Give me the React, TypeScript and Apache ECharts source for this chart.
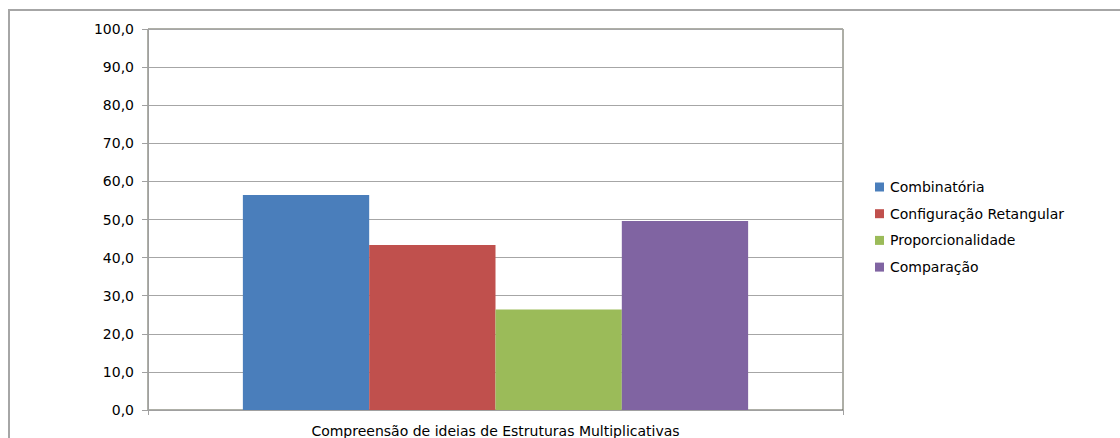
import React, { useEffect, useRef } from "react";
import * as echarts from "echarts";

const categories = ["Compreensão de ideias de Estruturas Multiplicativas"];
const seriesNames = ["Combinatória", "Configuração Retangular", "Proporcionalidade", "Comparação"];
const seriesValues = [56.4, 43.3, 26.4, 49.6];
const seriesColors = ["#4A7EBB", "#C0504D", "#9BBB59", "#8064A2"];
const yMin = 0;
const yMax = 100;
const yInterval = 10;

export default function App() {
  const ref = useRef<HTMLDivElement>(null);
  useEffect(() => {
    if (!ref.current) return;
    document.documentElement.style.overflow = "hidden";
    document.body.style.overflow = "hidden";
    document.body.style.margin = "0";
    const chart = echarts.init(ref.current, undefined, { renderer: "svg" });
    const font = "DejaVu Sans";
    chart.setOption({
      animation: false,
      backgroundColor: "#ffffff",
      grid: {
        left: 138,
        top: 18,
        right: 277,
        bottom: 23,
        show: true,
        borderColor: "#5c5f4e",
        borderWidth: 1,
        containLabel: false,
      },
      legend: {
        orient: "vertical",
        left: 860,
        top: 164,
        icon: "rect",
        itemWidth: 9,
        itemHeight: 9,
        itemGap: 12.7,
        textStyle: { fontFamily: font, fontSize: 14, color: "#000000", padding: [0, 0, 0, 1] },
        data: seriesNames,
      },
      xAxis: {
        type: "category",
        data: categories,
        axisLine: { show: true, lineStyle: { color: "#a0a0a0", width: 1 } },
        axisTick: { show: true, alignWithLabel: false, length: 5, lineStyle: { color: "#a0a0a0" } },
        axisLabel: { fontFamily: font, fontSize: 14, color: "#000000", margin: 14 },
        splitLine: { show: false },
      },
      yAxis: {
        type: "value",
        min: yMin,
        max: yMax,
        interval: yInterval,
        axisLine: { show: true, lineStyle: { color: "#a0a0a0", width: 1 } },
        axisTick: { show: true, length: 6, lineStyle: { color: "#a0a0a0" } },
        axisLabel: {
          fontFamily: font,
          fontSize: 14,
          color: "#000000",
          margin: 14,
          formatter: (v: number) => v.toFixed(1).replace(".", ","),
        },
        splitLine: { show: true, lineStyle: { color: "#a6a6a6", width: 1 } },
      },
      series: seriesNames.map((name, i) => ({
        name,
        type: "bar",
        data: [seriesValues[i]],
        itemStyle: { color: seriesColors[i] },
        barGap: "0%",
        barCategoryGap: "27.3%",
      })),
    });
    return () => chart.dispose();
  }, []);
  return (
    <div
      style={{
        marginLeft: 8,
        marginTop: 9,
        width: 1110,
        height: 427,
        borderTop: "2px solid #a6a6a6",
        borderLeft: "2px solid #a6a6a6",
        overflow: "hidden",
      }}
    >
      <div ref={ref} style={{ width: 1110, height: 427 }} />
    </div>
  );
}
